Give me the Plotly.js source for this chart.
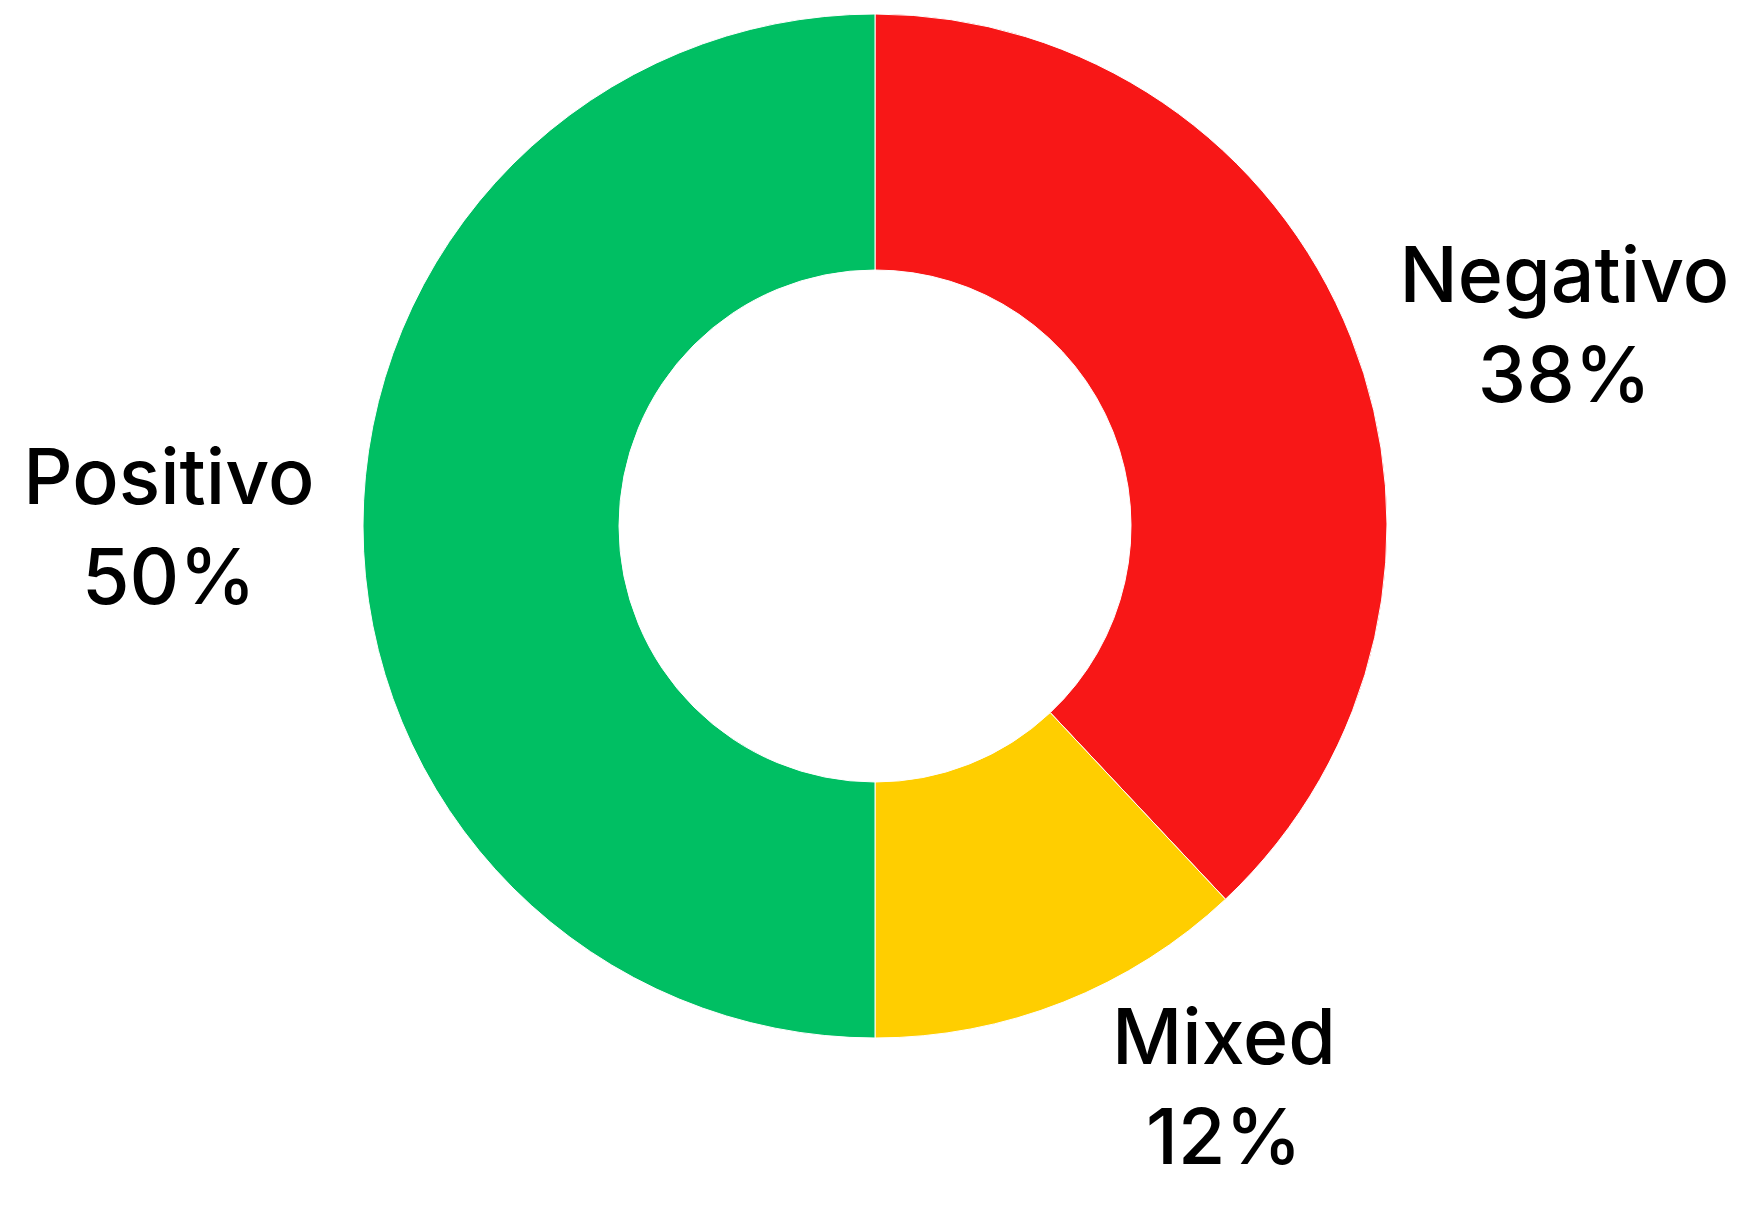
<!DOCTYPE html>
<html>
<head>
<meta charset="utf-8">
<script src="https://cdn.plot.ly/plotly-3.0.1.min.js"></script>
<style>html,body{margin:0;padding:0;background:#fff;}#chart{width:1741px;height:1215px;}</style>
</head>
<body>
<div id="chart"></div>
<script>
const labels = ["Negativo", "Mixed", "Positivo"];
const values = [38, 12, 50];
const colors = ["#F81717", "#FFCE00", "#00BF63"];

const trace = {
  type: "pie",
  labels: labels,
  values: values,
  hole: 0.5,
  sort: false,
  direction: "clockwise",
  rotation: 0,
  marker: {colors: colors, line: {color: "#ffffff", width: 1}},
  textinfo: "label+percent",
  textposition: "outside",
  outsidetextfont: {family: "Inter", size: 77, weight: 500, color: "#000000"},
  showlegend: false,
  automargin: false
};

const layout = {
  width: 1741,
  height: 1215,
  margin: {l: 9, r: 0, t: 14, b: 177},
  paper_bgcolor: "#ffffff",
  plot_bgcolor: "#ffffff",
  showlegend: false
};

Plotly.newPlot("chart", [trace], layout, {displayModeBar: false, staticPlot: true});
</script>
</body>
</html>
